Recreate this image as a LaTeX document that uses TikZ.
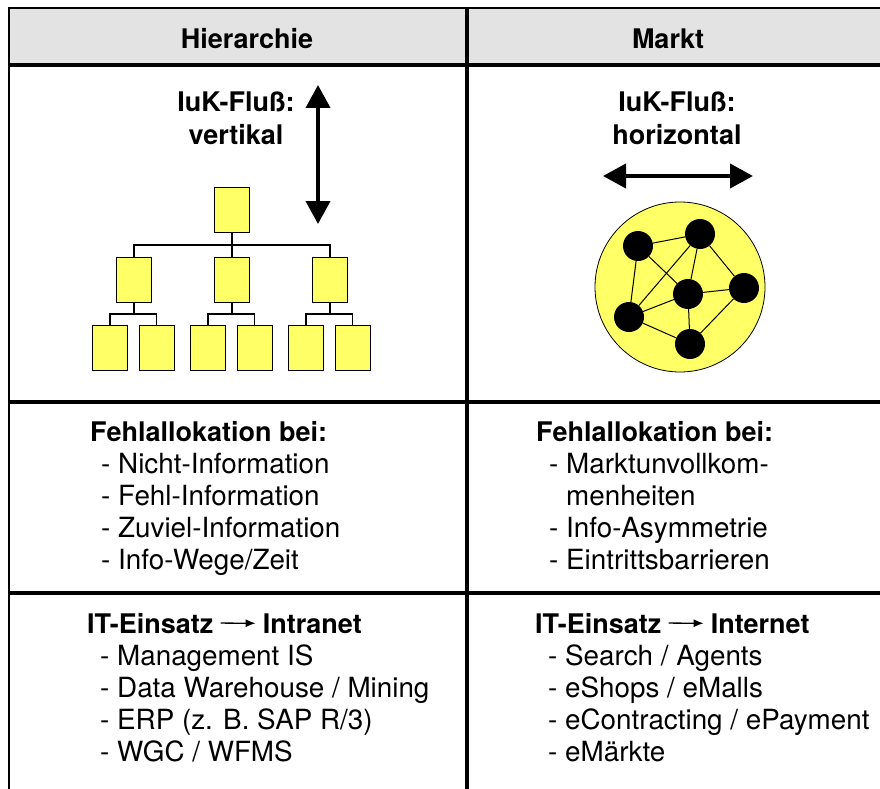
\documentclass[tikz,border=0pt]{standalone}
\usepackage{fontspec}
\setmainfont{TeX Gyre Heros}
\usetikzlibrary{arrows.meta,positioning}
\definecolor{boxyellow}{HTML}{FFFF66}
\definecolor{headgray}{HTML}{E3E3E3}

\begin{document}
\begin{tikzpicture}[x=1pt,y=-1pt,font=\fontsize{27.8}{32}\selectfont]

	% Setup the styles
	\tikzset{txt/.style={anchor=base west, inner sep=0pt},
	         hd/.style={txt, font=\fontsize{27}{32}\selectfont\bfseries},
	         title/.style={anchor=base, inner sep=0pt, font=\fontsize{27}{32}\selectfont\bfseries},
	         box/.style={draw=black, line width=1pt, fill=boxyellow,
	                     minimum width=35pt, minimum height=45pt, inner sep=0pt},
	         dot/.style={circle, fill=black, minimum size=30pt, inner sep=0pt},
	         rule/.style={line width=4pt},
	         flow/.style={line width=4pt,
	                      {Triangle[length=23pt,width=24pt]}-{Triangle[length=23pt,width=24pt]}}}

	\useasboundingbox (0,0) rectangle (880,789);

	% Draw the table
	\fill[headgray] (9,8) rectangle (880,65);
	\draw[line width=2.3pt] (880,8) -- (9,8) -- (9,789);
	\draw[rule] (9,65) -- (880,65);
	\draw[rule] (467,8) -- (467,789);
	\draw[rule] (9,402) -- (880,402);
	\draw[rule] (9,593) -- (880,593);

	% Column titles
	\node[title] (hier)  at (247,49) {Hierarchie};
	\node[title] (markt) at (668,49) {Markt};

	% Hierarchie: flow label and arrow
	\node[title] (fv1) at (236,112) {IuK-Fluß:};
	\node[title] (fv2) at (236,144) {vertikal};
	\coordinate (vt) at (318,85);
	\coordinate (vb) at (318,224);
	\draw[flow] (vt) -- (vb);

	% Draw the org chart
	\node[box] (top) at (232,210) {};
	\node[box] (m1)  at (134,280) {};
	\node[box] (m2)  at (232,280) {};
	\node[box] (m3)  at (330,280) {};
	\coordinate (bar) at (232,245);
	\draw[line width=1.2pt] (top.south) -- (bar) -- (m2.north);
	\draw[line width=1.2pt] (m1.north) |- (bar) -| (m3.north);
	\foreach \i/\x in {1/134,2/232,3/330} {
		\node[box] (bl\i) at (\x-24,348) {};
		\node[box] (br\i) at (\x+22.5,348) {};
		\coordinate (j\i) at (\x,314);
		\draw[line width=1.2pt] (m\i.south) -- (j\i);
		\draw[line width=1.2pt] (bl\i.north) |- (j\i) -| (br\i.north);
	}

	% Markt: flow label and arrow
	\node[title] (fh1) at (677,112) {IuK-Fluß:};
	\node[title] (fh2) at (677,144) {horizontal};
	\coordinate (hl) at (603,176);
	\coordinate (hr) at (753,176);
	\draw[flow] (hl) -- (hr);

	% Draw the market
	\node[circle, draw=black, line width=0.8pt, fill=boxyellow,
	      minimum size=170pt, inner sep=0pt] (mk) at (680,287) {};
	\node[dot] (na) at (638,246) {};
	\node[dot] (nb) at (700,234) {};
	\node[dot] (nc) at (688,294) {};
	\node[dot] (nd) at (744,288) {};
	\node[dot] (ne) at (629,317) {};
	\node[dot] (nf) at (690,344) {};
	\foreach \a/\b in {na/nb,na/ne,na/nc,nb/nc,nb/ne,nb/nd,nc/nd,nc/ne,nc/nf,ne/nf,nd/nf}
		\draw[line width=1pt] (\a) -- (\b);

	% Fehlallokation
	\node[hd] (fl) at (90,441) {Fehlallokation bei:};
	\foreach \t [count=\i] in {Nicht-Information,Fehl-Information,Zuviel-Information,Info-Wege/Zeit}
		\node[txt] (fl\i) at (101,441+32*\i) {- \t};
	\node[hd] (fr) at (536,441) {Fehlallokation bei:};
	\foreach \t [count=\i] in {- Marktunvollkom-,\phantom{- }menheiten,- Info-Asymmetrie,- Eintrittsbarrieren}
		\node[txt] (fr\i) at (549,441+32*\i) {\t};

	% IT-Einsatz
	\node[hd] (itl) at (87,633) {IT-Einsatz};
	\node[hd, base right=49pt of itl] (itl2) {Intranet};
	\draw[-{Latex[length=10pt,width=8pt]}, line width=1.3pt] ([xshift=7pt]itl.east) -- ([xshift=-7pt]itl2.west);
	\foreach \t [count=\i] in {Management IS,Data Warehouse / Mining,ERP (z. B. SAP R/3),WGC / WFMS}
		\node[txt] (il\i) at (100,633+32*\i) {- \t};
	\node[hd] (itr) at (535,633) {IT-Einsatz};
	\node[hd, base right=49pt of itr] (itr2) {Internet};
	\draw[-{Latex[length=10pt,width=8pt]}, line width=1.3pt] ([xshift=7pt]itr.east) -- ([xshift=-7pt]itr2.west);
	\foreach \t [count=\i] in {Search / Agents,eShops / eMalls,eContracting / ePayment,eMärkte}
		\node[txt] (ir\i) at (548,633+32*\i) {- \t};

\end{tikzpicture}
\end{document}
